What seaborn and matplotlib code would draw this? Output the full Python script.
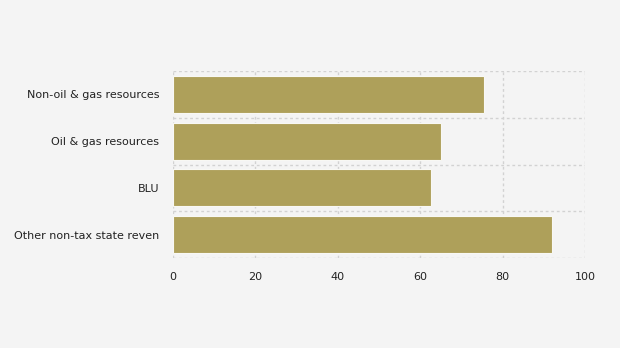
import matplotlib
matplotlib.use("Agg")
import matplotlib.pyplot as plt
import seaborn as sns
import pandas as pd
import numpy as np

categories = ["Non-oil & gas resources", "Oil & gas resources", "BLU", "Other non-tax state reven"]
values = [75.5, 65.0, 62.6, 92.1]
x_ticks = [0, 20, 40, 60, 80, 100]

df = pd.DataFrame({"category": categories, "value": values})

sns.set_style("white")
plt.rcParams["font.family"] = ["DejaVu Sans"]

bg = "#f4f4f4"
fig = plt.figure(figsize=(6.2, 3.48), dpi=100, facecolor=bg)
ax = fig.add_axes([173/620, 1-258/348, (585-173)/620, (258-71)/348])
ax.set_facecolor(bg)

sns.barplot(data=df, y="category", x="value", orient="h", color="#aea05a",
            saturation=1, width=0.79, edgecolor="#f8f8f4", linewidth=0.8, ax=ax)

ax.set_xlim(0, 100)
ax.set_ylim(len(categories) - 0.5, -0.5)
ax.set_xticks(x_ticks)
ax.set_xticklabels([str(t) for t in x_ticks])
ax.set_yticks(range(len(categories)))
ax.set_yticks(np.arange(-0.5, len(categories), 1.0), minor=True)
ax.set_xlabel("")
ax.set_ylabel("")

grid_kw = dict(color="#d2d2d2", linestyle=(0, (2, 2)), linewidth=1.0)
ax.grid(True, axis="x", which="major", **grid_kw)
ax.grid(True, axis="y", which="minor", **grid_kw)
ax.grid(False, axis="y", which="major")
ax.set_axisbelow(True)
for s in ax.spines.values():
    s.set_visible(False)

ax.tick_params(axis="y", which="major", length=4, color="#d2d2d2", labelsize=8.0, labelcolor="#222222", pad=6)
ax.tick_params(axis="y", which="minor", length=0)
ax.tick_params(axis="x", which="major", length=0, labelsize=8.0, labelcolor="#222222", pad=10)

fig.savefig("out.png", dpi=100, facecolor=bg)
